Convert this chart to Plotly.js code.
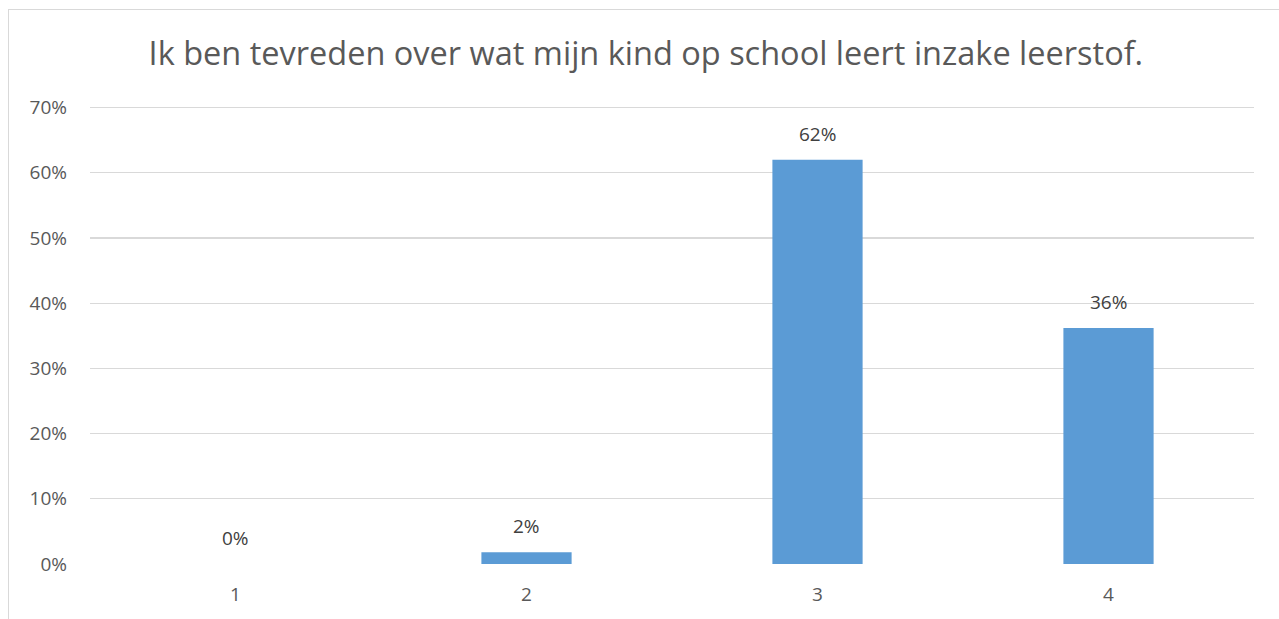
<!DOCTYPE html>
<html><head><meta charset="utf-8">
<script src="https://cdn.plot.ly/plotly-3.0.1.min.js"></script>
<style>
html,body{margin:0;padding:0;background:#fff;overflow:hidden;}
#wrap{position:absolute;left:0;top:0;width:1279px;height:619px;}
#frame{position:absolute;left:8px;top:9px;width:1290px;height:640px;border-left:1.5px solid #d9d9d9;border-top:1.5px solid #d9d9d9;pointer-events:none;}
#chart{position:absolute;left:0;top:0;width:1279px;height:619px;}
</style></head>
<body>
<div id="wrap"><div id="chart"></div><div id="frame"></div></div>
<script>
const titleText = "Ik ben tevreden over wat mijn kind op school leert inzake leerstof.";
const categories = ["1", "2", "3", "4"];
const values = [0, 0.018, 0.62, 0.362];
const tickVals = [0, 0.1, 0.2, 0.3, 0.4, 0.5, 0.6, 0.7];
const tickText = ["0%", "10%", "20%", "30%", "40%", "50%", "60%", "70%"];
const labels = values.map(v => Math.round(v * 100) + "%");

const font = "Open Sans, Lato, sans-serif";
const grey = "#595959";

const trace = {
  type: "bar",
  x: categories,
  y: values,
  marker: {color: "#5B9BD5"},
  hoverinfo: "none"
};

const annotations = categories.map((c, i) => ({
  x: i, y: values[i], xref: "x", yref: "y",
  text: labels[i], showarrow: false,
  yanchor: "bottom", yshift: 11,
  font: {family: font, size: 19, color: "#404040"}
}));

const layout = {
  width: 1279, height: 619,
  margin: {l: 90, r: 25, t: 105, b: 55},
  paper_bgcolor: "#fff", plot_bgcolor: "#fff",
  showlegend: false,
  bargap: 0.69,
  title: {text: titleText, x: 0.505, xanchor: "center", y: 0.914, yanchor: "middle",
          font: {family: font, size: 32.5, color: grey}},
  xaxis: {type: "category", range: [-0.5, 3.5], showgrid: false, zeroline: false, showline: false,
          ticks: "", ticklabelstandoff: 17,
          tickfont: {family: font, size: 19, color: grey}},
  yaxis: {range: [0, 0.704], tickvals: tickVals, ticktext: tickText,
          showgrid: true, gridcolor: "#d9d9d9", gridwidth: 1.3,
          zeroline: false, showline: false, ticks: "", ticklabelstandoff: 22,
          tickfont: {family: font, size: 19, color: grey}},
  annotations: annotations
};

Plotly.newPlot("chart", [trace], layout, {displayModeBar: false, staticPlot: true});
</script>
</body></html>
